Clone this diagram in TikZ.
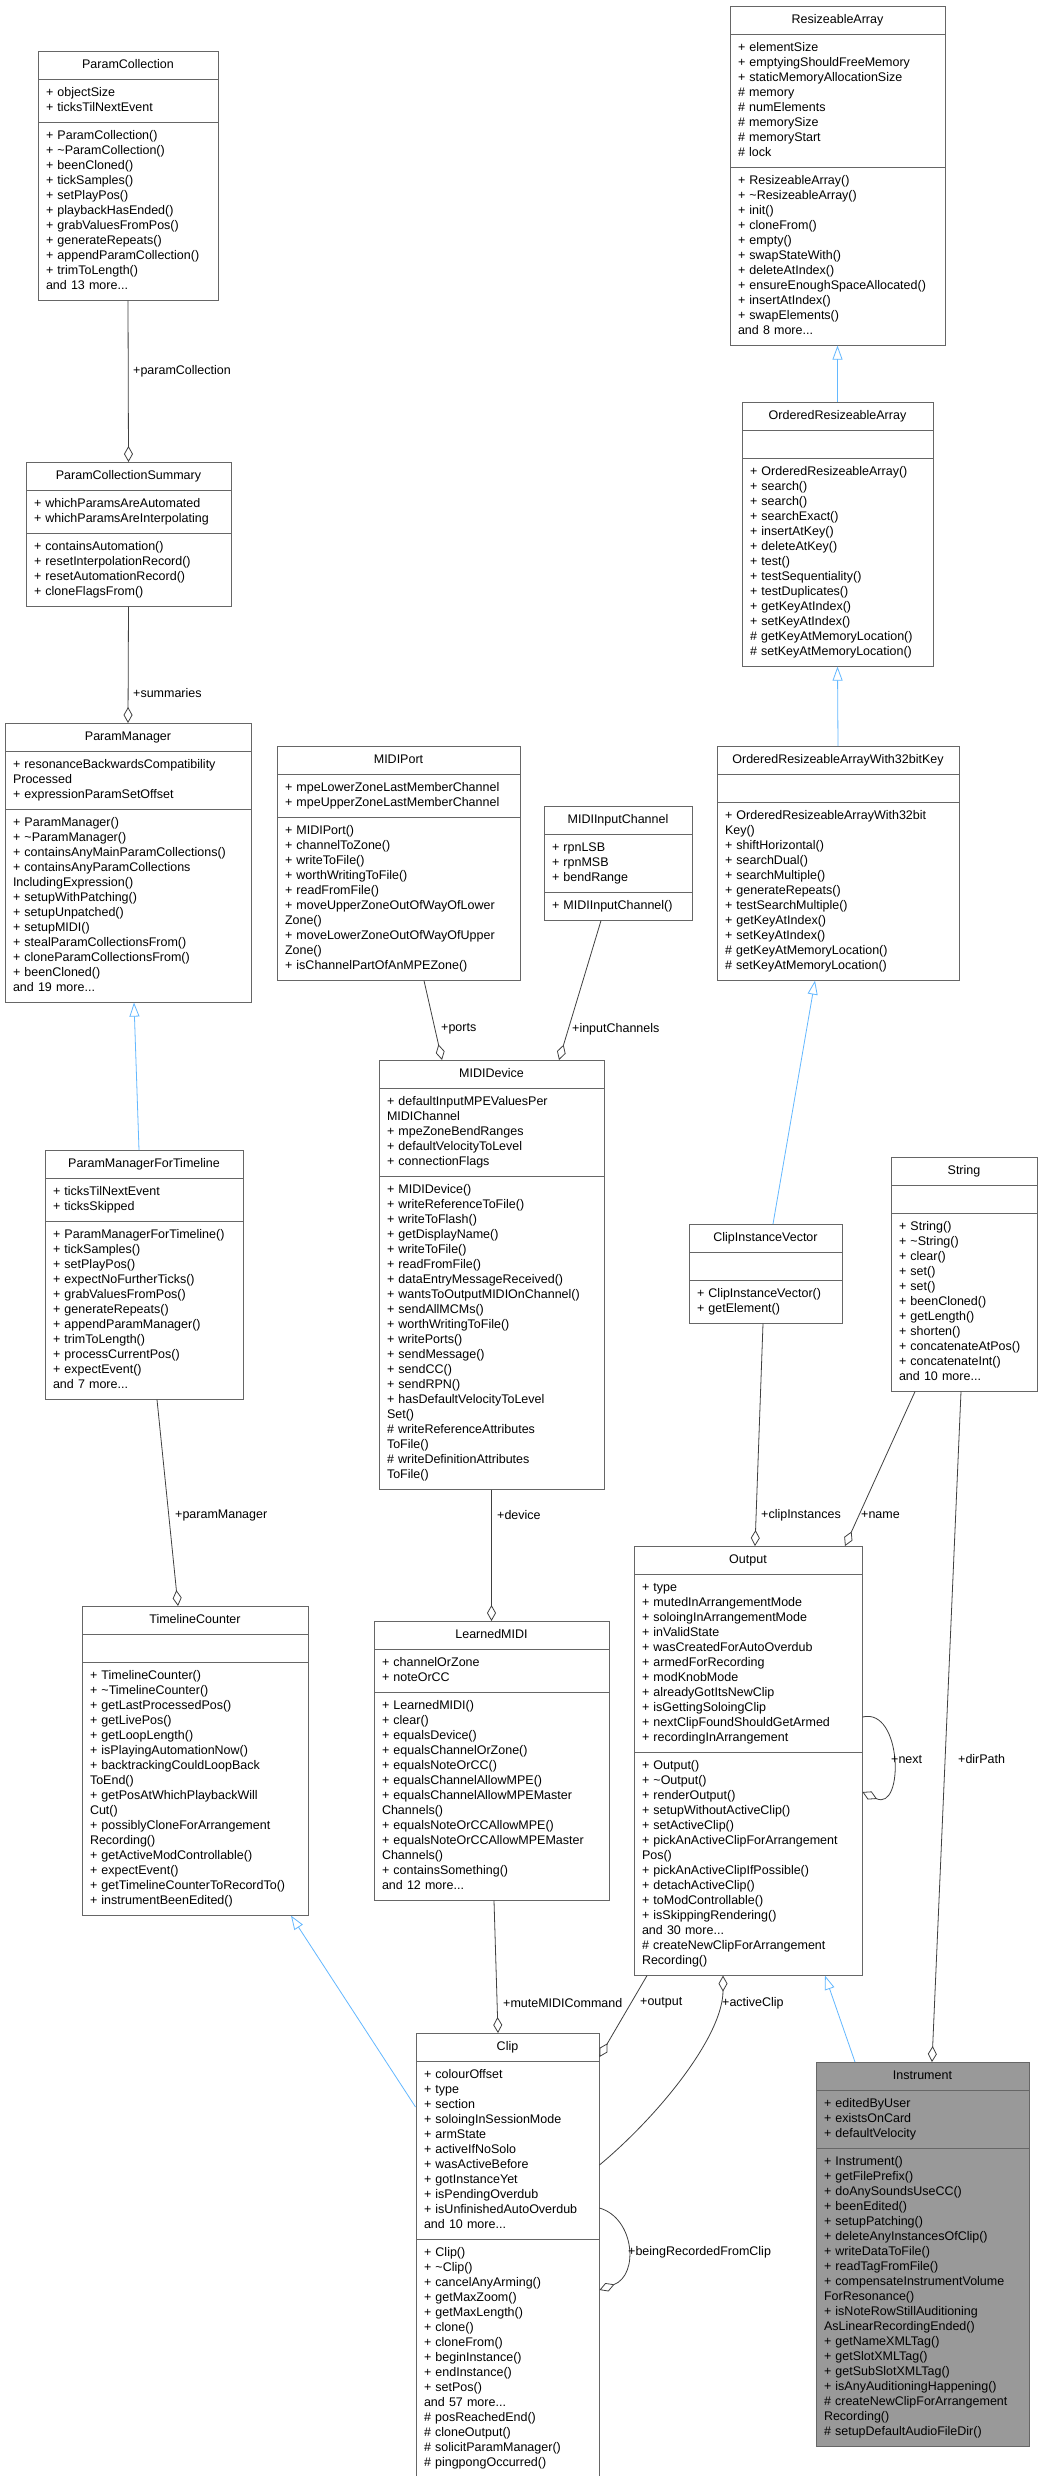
\documentclass[tikz,border=0pt]{standalone}
\usepackage{fontspec}
\setmainfont{Liberation Sans}
\usetikzlibrary{shapes.multipart,arrows.meta,calc}
\definecolor{boxc}{HTML}{666666}
\definecolor{edgec}{HTML}{404040}
\definecolor{inhc}{HTML}{63B8FF}
\definecolor{instc}{HTML}{999999}
\newcommand\T[1]{\strut\hfill#1\hfill\strut}
\newcommand\W[1]{\strut#1\strut}
\newcommand\tl{\textasciitilde}
\tikzset{
 cls/.style={rectangle split, rectangle split parts=3, draw=boxc, fill=white, anchor=north,
   inner xsep=8pt, inner ysep=6pt, align=left, font=\fontsize{12.5}{15}\selectfont, line width=0.9pt},
 agg/.style={draw=edgec, line width=0.8pt, -{Diamond[open,length=16pt,width=9pt]}},
 inh/.style={draw=inhc, line width=0.8pt, -{Triangle[open,length=14pt,width=10pt]}},
 lbl/.style={anchor=west, inner sep=0pt, font=\fontsize{12.5}{15}\selectfont},
}
\begin{document}
\begin{tikzpicture}[x=1pt,y=-1pt]
\useasboundingbox (0,0) rectangle (1039,2476);
\fill[white] (0,0) rectangle (1039,2476);

\node[cls,text width=164pt] (PC) at (128,51) {\T{ParamCollection}\nodepart{two}\W{+ objectSize\\+ ticksTilNextEvent}\nodepart{three}\W{+ ParamCollection()\\+ \tl ParamCollection()\\+ beenCloned()\\+ tickSamples()\\+ setPlayPos()\\+ playbackHasEnded()\\+ grabValuesFromPos()\\+ generateRepeats()\\+ appendParamCollection()\\+ trimToLength()\\and 13 more...}};

\node[cls,text width=189pt] (SUM) at (128.5,462) {\T{ParamCollectionSummary}\nodepart{two}\W{+ whichParamsAreAutomated\\+ whichParamsAreInterpolating}\nodepart{three}\W{+ containsAutomation()\\+ resetInterpolationRecord()\\+ resetAutomationRecord()\\+ cloneFlagsFrom()}};

\node[cls,text width=230pt] (PM) at (128,723) {\T{ParamManager}\nodepart{two}\W{+ resonanceBackwardsCompatibility\\Processed\\+ expressionParamSetOffset}\nodepart{three}\W{+ ParamManager()\\+ \tl ParamManager()\\+ containsAnyMainParamCollections()\\+ containsAnyParamCollections\\IncludingExpression()\\+ setupWithPatching()\\+ setupUnpatched()\\+ setupMIDI()\\+ stealParamCollectionsFrom()\\+ cloneParamCollectionsFrom()\\+ beenCloned()\\and 19 more...}};

\node[cls,text width=182pt] (PMFT) at (144,1150) {\T{ParamManagerForTimeline}\nodepart{two}\W{+ ticksTilNextEvent\\+ ticksSkipped}\nodepart{three}\W{+ ParamManagerForTimeline()\\+ tickSamples()\\+ setPlayPos()\\+ expectNoFurtherTicks()\\+ grabValuesFromPos()\\+ generateRepeats()\\+ appendParamManager()\\+ trimToLength()\\+ processCurrentPos()\\+ expectEvent()\\and 7 more...}};

\node[cls,text width=210pt] (TC) at (195,1606) {\T{TimelineCounter}\nodepart{two}\strut\nodepart{three}\W{+ TimelineCounter()\\+ \tl TimelineCounter()\\+ getLastProcessedPos()\\+ getLivePos()\\+ getLoopLength()\\+ isPlayingAutomationNow()\\+ backtrackingCouldLoopBack\\ToEnd()\\+ getPosAtWhichPlaybackWill\\Cut()\\+ possiblyCloneForArrangement\\Recording()\\+ getActiveModControllable()\\+ expectEvent()\\+ getTimelineCounterToRecordTo()\\+ instrumentBeenEdited()}};

\node[cls,text width=227pt] (MP) at (398.5,746) {\T{MIDIPort}\nodepart{two}\W{+ mpeLowerZoneLastMemberChannel\\+ mpeUpperZoneLastMemberChannel}\nodepart{three}\W{+ MIDIPort()\\+ channelToZone()\\+ writeToFile()\\+ worthWritingToFile()\\+ readFromFile()\\+ moveUpperZoneOutOfWayOfLower\\Zone()\\+ moveLowerZoneOutOfWayOfUpper\\Zone()\\+ isChannelPartOfAnMPEZone()}};

\node[cls,text width=132pt] (MIC) at (618,806) {\T{MIDIInputChannel}\nodepart{two}\W{+ rpnLSB\\+ rpnMSB\\+ bendRange}\nodepart{three}\W{+ MIDIInputChannel()}};

\node[cls,text width=209pt] (MD) at (491.5,1060) {\T{MIDIDevice}\nodepart{two}\W{+ defaultInputMPEValuesPer\\MIDIChannel\\+ mpeZoneBendRanges\\+ defaultVelocityToLevel\\+ connectionFlags}\nodepart{three}\W{+ MIDIDevice()\\+ writeReferenceToFile()\\+ writeToFlash()\\+ getDisplayName()\\+ writeToFile()\\+ readFromFile()\\+ dataEntryMessageReceived()\\+ wantsToOutputMIDIOnChannel()\\+ sendAllMCMs()\\+ worthWritingToFile()\\+ writePorts()\\+ sendMessage()\\+ sendCC()\\+ sendRPN()\\+ hasDefaultVelocityToLevel\\Set()\\\# writeReferenceAttributes\\ToFile()\\\# writeDefinitionAttributes\\ToFile()}};

\node[cls,text width=219pt] (LM) at (491.5,1621) {\T{LearnedMIDI}\nodepart{two}\W{+ channelOrZone\\+ noteOrCC}\nodepart{three}\W{+ LearnedMIDI()\\+ clear()\\+ equalsDevice()\\+ equalsChannelOrZone()\\+ equalsNoteOrCC()\\+ equalsChannelAllowMPE()\\+ equalsChannelAllowMPEMaster\\Channels()\\+ equalsNoteOrCCAllowMPE()\\+ equalsNoteOrCCAllowMPEMaster\\Channels()\\+ containsSomething()\\and 12 more...}};

\node[cls,text width=167pt] (CL) at (507.5,2033) {\T{Clip}\nodepart{two}\W{+ colourOffset\\+ type\\+ section\\+ soloingInSessionMode\\+ armState\\+ activeIfNoSolo\\+ wasActiveBefore\\+ gotInstanceYet\\+ isPendingOverdub\\+ isUnfinishedAutoOverdub\\and 10 more...}\nodepart{three}\W{+ Clip()\\+ \tl Clip()\\+ cancelAnyArming()\\+ getMaxZoom()\\+ getMaxLength()\\+ clone()\\+ cloneFrom()\\+ beginInstance()\\+ endInstance()\\+ setPos()\\and 57 more...\\\# posReachedEnd()\\\# cloneOutput()\\\# solicitParamManager()\\\# pingpongOccurred()}};

\node[cls,text width=199pt] (RA) at (837.5,6) {\T{ResizeableArray}\nodepart{two}\W{+ elementSize\\+ emptyingShouldFreeMemory\\+ staticMemoryAllocationSize\\\# memory\\\# numElements\\\# memorySize\\\# memoryStart\\\# lock}\nodepart{three}\W{+ ResizeableArray()\\+ \tl ResizeableArray()\\+ init()\\+ cloneFrom()\\+ empty()\\+ swapStateWith()\\+ deleteAtIndex()\\+ ensureEnoughSpaceAllocated()\\+ insertAtIndex()\\+ swapElements()\\and 8 more...}};

\node[cls,text width=175pt] (ORA) at (837.5,402) {\T{OrderedResizeableArray}\nodepart{two}\strut\nodepart{three}\W{+ OrderedResizeableArray()\\+ search()\\+ search()\\+ searchExact()\\+ insertAtKey()\\+ deleteAtKey()\\+ test()\\+ testSequentiality()\\+ testDuplicates()\\+ getKeyAtIndex()\\+ setKeyAtIndex()\\\# getKeyAtMemoryLocation()\\\# setKeyAtMemoryLocation()}};

\node[cls,text width=226pt] (ORB) at (838,746) {\T{OrderedResizeableArrayWith32bitKey}\nodepart{two}\strut\nodepart{three}\W{+ OrderedResizeableArrayWith32bit\\Key()\\+ shiftHorizontal()\\+ searchDual()\\+ searchMultiple()\\+ generateRepeats()\\+ testSearchMultiple()\\+ getKeyAtIndex()\\+ setKeyAtIndex()\\\# getKeyAtMemoryLocation()\\\# setKeyAtMemoryLocation()}};

\node[cls,text width=137pt] (CIV) at (765.5,1224) {\T{ClipInstanceVector}\nodepart{two}\strut\nodepart{three}\W{+ ClipInstanceVector()\\+ getElement()}};

\node[cls,text width=130pt] (STR) at (964,1157) {\T{String}\nodepart{two}\strut\nodepart{three}\W{+ String()\\+ \tl String()\\+ clear()\\+ set()\\+ set()\\+ beenCloned()\\+ getLength()\\+ shorten()\\+ concatenateAtPos()\\+ concatenateInt()\\and 10 more...}};

\node[cls,text width=212pt] (OUT) at (748,1546) {\T{Output}\nodepart{two}\W{+ type\\+ mutedInArrangementMode\\+ soloingInArrangementMode\\+ inValidState\\+ wasCreatedForAutoOverdub\\+ armedForRecording\\+ modKnobMode\\+ alreadyGotItsNewClip\\+ isGettingSoloingClip\\+ nextClipFoundShouldGetArmed\\+ recordingInArrangement}\nodepart{three}\W{+ Output()\\+ \tl Output()\\+ renderOutput()\\+ setupWithoutActiveClip()\\+ setActiveClip()\\+ pickAnActiveClipForArrangement\\Pos()\\+ pickAnActiveClipIfPossible()\\+ detachActiveClip()\\+ toModControllable()\\+ isSkippingRendering()\\and 30 more...\\\# createNewClipForArrangement\\Recording()}};

\node[cls,fill=instc,text width=197pt] (INS) at (922.5,2062) {\T{Instrument}\nodepart{two}\W{+ editedByUser\\+ existsOnCard\\+ defaultVelocity}\nodepart{three}\W{+ Instrument()\\+ getFilePrefix()\\+ doAnySoundsUseCC()\\+ beenEdited()\\+ setupPatching()\\+ deleteAnyInstancesOfClip()\\+ writeDataToFile()\\+ readTagFromFile()\\+ compensateInstrumentVolume\\ForResonance()\\+ isNoteRowStillAuditioning\\AsLinearRecordingEnded()\\+ getNameXMLTag()\\+ getSlotXMLTag()\\+ getSubSlotXMLTag()\\+ isAnyAuditioningHappening()\\\# createNewClipForArrangement\\Recording()\\\# setupDefaultAudioFileDir()}};

% connectors
\draw[agg] (PC.south) -- (SUM.north);
\node[lbl] (l1) at (133,371) {+paramCollection};
\draw[agg] (SUM.south) -- (PM.north);
\node[lbl] (l2) at (133,693) {+summaries};
\draw[inh] ([xshift=-5pt]PMFT.north) -- ([xshift=6pt]PM.south);
\draw[agg] ([xshift=13pt]PMFT.south) -- ([xshift=-17pt]TC.north);
\node[lbl] (l3) at (175,1515) {+paramManager};
\draw[agg] ([xshift=25.5pt]MP.south) -- ([xshift=-49.5pt]MD.north);
\node[lbl] (l4) at (441,1029) {+ports};
\draw[agg] ([xshift=-17pt]MIC.south) -- ([xshift=67.5pt]MD.north);
\node[lbl] (l5) at (572,1029) {+inputChannels};
\draw[agg] (MD.south) -- (LM.north);
\node[lbl] (l6) at (497,1515) {+device};
\draw[inh] (ORA.north) -- (RA.south);
\draw[inh] (ORB.north) -- (ORA.south);
\draw[inh] ([xshift=7.5pt]CIV.north) -- ([xshift=-23pt]ORB.south);
\draw[agg] ([xshift=-2.5pt]CIV.south) -- ([xshift=7pt]OUT.north);
\node[lbl] (l7) at (761,1515) {+clipInstances};
\draw[agg] ([xshift=-49pt]STR.south) -- ([xshift=97pt]OUT.north);
\node[lbl] (l8) at (861,1515) {+name};
\draw[agg] ([xshift=-3pt]STR.south) -- ([xshift=9.5pt]INS.north);
\node[lbl] (l9) at (958,1759) {+dirPath};
\draw[agg] ([yshift=-171pt]OUT.north east) .. controls +(40,-10) and +(42,20) .. ([yshift=-246pt]OUT.north east);
\node[lbl] (l10) at (891,1759) {+next};
\draw[inh] ([yshift=-74pt]CL.north west) -- ([xshift=96pt]TC.south);
\draw[agg] ([xshift=2.5pt]LM.south) -- ([xshift=-9.5pt]CL.north);
\node[lbl] (l11) at (503,2003) {+muteMIDICommand};
\draw[agg] ([xshift=-101pt]OUT.south) -- ([yshift=-24pt]CL.north east);
\node[lbl] (l12) at (640,2003) {+output};
\draw[agg] ([yshift=-132pt]CL.north east) .. controls +(60,-50) and +(0,60) .. ([xshift=-25pt]OUT.south);
\node[lbl] (l13) at (722,2003) {+activeClip};
\draw[inh] ([xshift=-67.5pt]INS.north) -- ([xshift=77pt]OUT.south);
\draw[agg] ([yshift=-175pt]CL.north east) .. controls +(35,10) and +(40,-15) .. ([yshift=-257pt]CL.north east);
\node[lbl] (l14) at (628,2252) {+beingRecordedFromClip};
\end{tikzpicture}
\end{document}
